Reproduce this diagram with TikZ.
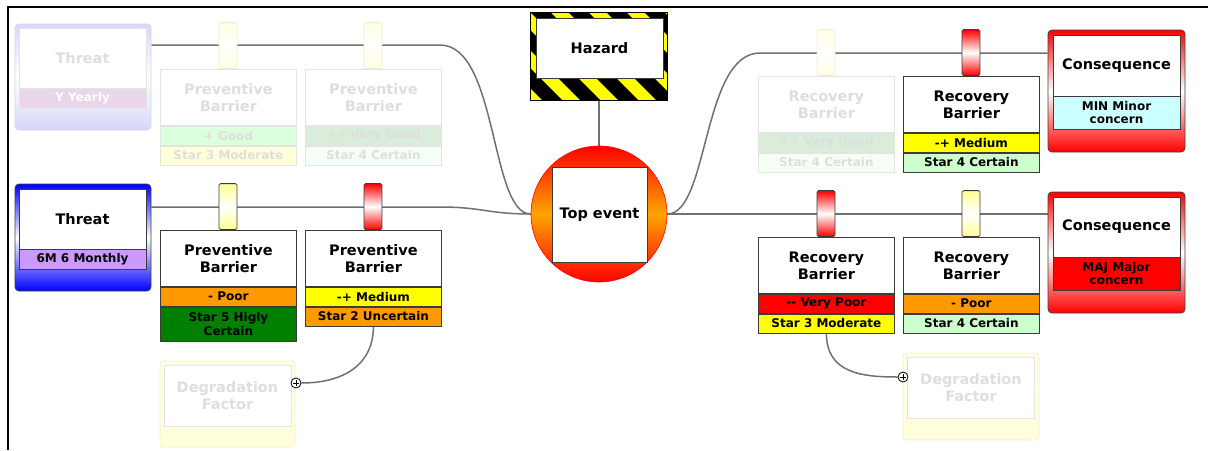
\documentclass[tikz,border=0pt]{standalone}
\usepackage{fontspec}
\setmainfont{DejaVu Sans}
\usetikzlibrary{calc}
\pgfdeclarelayer{background}
\pgfsetlayers{background,main}

% palette
\definecolor{connc}{RGB}{112,112,112}
\definecolor{boxline}{RGB}{60,60,60}
\definecolor{cRed}{RGB}{255,0,0}
\definecolor{cOrange}{RGB}{255,153,0}
\definecolor{cTopMid}{RGB}{255,165,0}
\definecolor{cYellow}{RGB}{255,255,0}
\definecolor{cDGreen}{RGB}{0,128,0}
\definecolor{cLGreen}{RGB}{204,255,204}
\definecolor{cLCyan}{RGB}{204,255,255}
\definecolor{cLPurple}{RGB}{204,153,255}
\definecolor{cBlue}{RGB}{0,0,255}
\definecolor{cPillarY}{RGB}{255,255,150}
% washed-out variants for inactive elements
\definecolor{fText}{RGB}{222,222,222}
\definecolor{fLine}{RGB}{228,228,228}
\definecolor{fGood}{RGB}{220,255,220}
\definecolor{fVGood}{RGB}{218,236,218}
\definecolor{fModerate}{RGB}{255,255,218}
\definecolor{fCertain}{RGB}{246,255,246}
\definecolor{fYearly}{RGB}{234,214,234}
\definecolor{fLavender}{RGB}{214,214,250}
\definecolor{fLavLine}{RGB}{212,212,242}
\definecolor{fPillar}{RGB}{255,255,226}
\definecolor{fPillarLine}{RGB}{236,236,222}
\definecolor{fDegr}{RGB}{255,255,218}
\definecolor{fDegrLine}{RGB}{240,240,205}

\newcommand\bowtitlefont{\fontsize{14.5}{17}\selectfont\bfseries}
\newcommand\bowbandfont{\fontsize{12}{13.5}\selectfont\bfseries}

\tikzset{
  conn/.style={draw=connc, line width=1.5pt},
  ttlbox/.style={draw=boxline, line width=0.8pt, fill=white, minimum width=136,
    minimum height=56, inner sep=0pt, align=center, font=\bowtitlefont},
  bandbox/.style={draw=boxline, line width=0.8pt, minimum width=136,
    minimum height=19, inner sep=0pt, align=center, font=\bowbandfont},
  pillar/.style={draw=boxline, line width=0.8pt, minimum width=18, minimum height=46,
    inner sep=0pt, rounded corners=1.5pt},
  redpillar/.style={pillar, top color=cRed, bottom color=cRed, middle color=white},
  yellowpillar/.style={pillar, top color=cPillarY, bottom color=cPillarY, middle color=white},
  fadepillar/.style={pillar, draw=fPillarLine, top color=fPillar, bottom color=fPillar, middle color=white},
  outerbox/.style={rounded corners=4pt, line width=0.8pt, inner sep=0pt},
  innerttl/.style={draw=boxline, line width=0.8pt, fill=white, minimum width=127,
    inner sep=0pt, align=center, font=\bowtitlefont},
  innerband/.style={draw=boxline, line width=0.8pt, minimum width=127,
    inner sep=0pt, align=center, font=\bowbandfont},
  faded/.style={
    ttlbox/.append style={draw=fLine, text=fText},
    bandbox/.append style={draw=fLine, text=fText},
    innerttl/.append style={draw=fLine, text=fText},
    innerband/.append style={draw=fLine, text=fText}},
  plusmark/.style={circle, draw=black, fill=white, line width=0.8pt,
    minimum size=10, inner sep=0pt,
    path picture={\draw[line width=0.7pt]
      ($(path picture bounding box.center)+(-3,0)$) -- ++(6,0)
      ($(path picture bounding box.center)+(0,-3)$) -- ++(0,6);}},
}

% barrier: name, left x, top y, title, band 1 fill, band 1 text, band 2 fill, band 2 text, pillar style
\newcommand\barrierbox[9]{%
  \node[#9, anchor=south] (#1p) at (#2+68,#3) {};
  \node[ttlbox, anchor=north west] (#1) at (#2,#3) {#4};
  \node[bandbox, fill=#5, anchor=north] (#1a) at (#1.south) {#6};
  \node[bandbox, fill=#7, anchor=north] (#1b) at (#1a.south) {#8};
}

\begin{document}
\begin{tikzpicture}[x=1pt, y=-1pt]
\useasboundingbox (0,0) rectangle (1208,450);

% sheet border
\draw[line width=2pt] (8,450) -- (8,6.5) -- (1208,6.5);

% ---- threats ----
\begin{scope}[faded]
  \node[outerbox, draw=fLavLine, top color=fLavender, bottom color=fLavender,
        middle color=white, minimum width=136, minimum height=106] (thr1) at (83,77) {};
  \node[innerttl, minimum height=60] (thr1t) at (82.5,58) {Threat};
  \node[innerband, fill=fYearly, minimum height=20, text=white] (thr1b) at (82.5,98) {Y Yearly};
\end{scope}
\node[outerbox, draw=black!75, top color=cBlue, bottom color=cBlue,
      middle color=white, minimum width=136, minimum height=107] (thr2) at (83,237.5) {};
\node[innerttl, minimum height=60] (thr2t) at (82.5,219) {Threat};
\node[innerband, fill=cLPurple, minimum height=20] (thr2b) at (82.5,259) {6M 6 Monthly};

% ---- preventive barriers ----
\begin{scope}[faded]
  \barrierbox{pb1}{160}{69}{Preventive\\Barrier}{fGood}{+ Good}{fModerate}{Star 3 Moderate}{fadepillar}
  \barrierbox{pb2}{305}{69}{Preventive\\Barrier}{fVGood}{++ Very Good}{fCertain}{Star 4 Certain}{fadepillar}
\end{scope}
\barrierbox{pb3}{160}{230}{Preventive\\Barrier}{cOrange}{- Poor}{cDGreen, minimum height=34}{Star 5 Higly\\Certain}{yellowpillar}
\barrierbox{pb4}{305}{230}{Preventive\\Barrier}{cYellow}{-+ Medium}{cOrange}{Star 2 Uncertain}{redpillar}

% ---- degradation factors ----
\begin{scope}[faded]
  \node[outerbox, draw=fDegrLine, top color=fDegr!60, bottom color=fDegr,
        minimum width=135, minimum height=86] (dg1) at (227.5,404) {};
  \node[innerttl, minimum height=61] (dg1t) at (227.5,395.5) {Degradation\\Factor};
  \node[outerbox, draw=fDegrLine, top color=fDegr!60, bottom color=fDegr,
        minimum width=136, minimum height=87] (dg2) at (971,396.5) {};
  \node[innerttl, minimum height=61] (dg2t) at (971,387.5) {Degradation\\Factor};
\end{scope}
\node[plusmark] (dg1p) at (296,383) {};
\node[plusmark] (dg2p) at (903,377) {};

% ---- hazard ----
\node[minimum width=136, minimum height=87, inner sep=0pt] (haz) at (599,56.5) {};
\begin{scope}
  \clip (haz.north west) rectangle (haz.south east);
  \fill[cYellow] (haz.north west) rectangle (haz.south east);
  \foreach \k in {0,...,8}
    \fill[black] (417+\k*38,13) -- ++(20,0) -- ++(87,87) -- ++(-20,0) -- cycle;
\end{scope}
\draw[black, line width=0.8pt] (haz.north west) rectangle (haz.south east);
\node[innerttl, minimum height=60] (hazt) at (599.5,48) {Hazard};

% ---- top event ----
\node[circle, draw=cRed, line width=0.6pt, minimum size=136, inner sep=0pt,
      top color=cRed, bottom color=cRed, middle color=cTopMid] (top) at (599,214) {};
\node[draw=boxline, line width=0.8pt, fill=white, minimum size=95, inner sep=0pt,
      font=\bowtitlefont] (topt) at (599.5,214.5) {Top event};

% ---- recovery barriers ----
\begin{scope}[faded]
  \barrierbox{rb1}{758}{76}{Recovery\\Barrier}{fVGood}{++ Very Good}{fCertain}{Star 4 Certain}{fadepillar}
\end{scope}
\barrierbox{rb2}{903}{76}{Recovery\\Barrier}{cYellow}{-+ Medium}{cLGreen}{Star 4 Certain}{redpillar}
\barrierbox{rb3}{758}{237}{Recovery\\Barrier}{cRed}{-{}- Very Poor}{cYellow}{Star 3 Moderate}{redpillar}
\barrierbox{rb4}{903}{237}{Recovery\\Barrier}{cOrange}{- Poor}{cLGreen}{Star 4 Certain}{yellowpillar}

% ---- consequences ----
\node[outerbox, draw=black!75, top color=cRed, bottom color=cRed,
      middle color=white, minimum width=137, minimum height=122] (con1) at (1116.5,91) {};
\node[innerttl, minimum height=61] (con1t) at (1116.5,65.5) {Consequence};
\node[innerband, fill=cLCyan, minimum height=33] (con1b) at (1116.5,112.5) {MIN Minor\\concern};
\node[outerbox, draw=black!75, top color=cRed, bottom color=cRed,
      middle color=white, minimum width=137, minimum height=121] (con2) at (1116.5,252.5) {};
\node[innerttl, minimum height=60] (con2t) at (1116.5,227) {Consequence};
\node[innerband, fill=cRed, minimum height=33] (con2b) at (1116.5,273.5) {MAJ Major\\concern};

% ---- connectors (behind everything) ----
\coordinate (thr1port) at (thr1.east |- 0,45);
\coordinate (thr2port) at (thr2.east |- 0,207);
\coordinate (con1port) at (con1.west |- 0,53);
\coordinate (con2port) at (con2.west |- top.east);
\begin{pgfonlayer}{background}
  \draw[conn] (thr1port) -- (440,45) .. controls (498,45) and (490,214) .. (top.west);
  \draw[conn] (thr2port) -- (440,207) .. controls (482,207) and (488,214) .. (top.west);
  \draw[conn] (top.east) .. controls (709,214) and (702,53) .. (760,53) -- (con1port);
  \draw[conn] (top.east) -- (con2port);
  \draw[conn] (haz.south) -- (top.north);
  \draw[conn] (pb4b.south) .. controls +(0,40) and +(40,0) .. (dg1p.east);
  \draw[conn] (rb3b.south) .. controls +(0,40) and +(-35,0) .. (dg2p.west);
\end{pgfonlayer}
\end{tikzpicture}
\end{document}
